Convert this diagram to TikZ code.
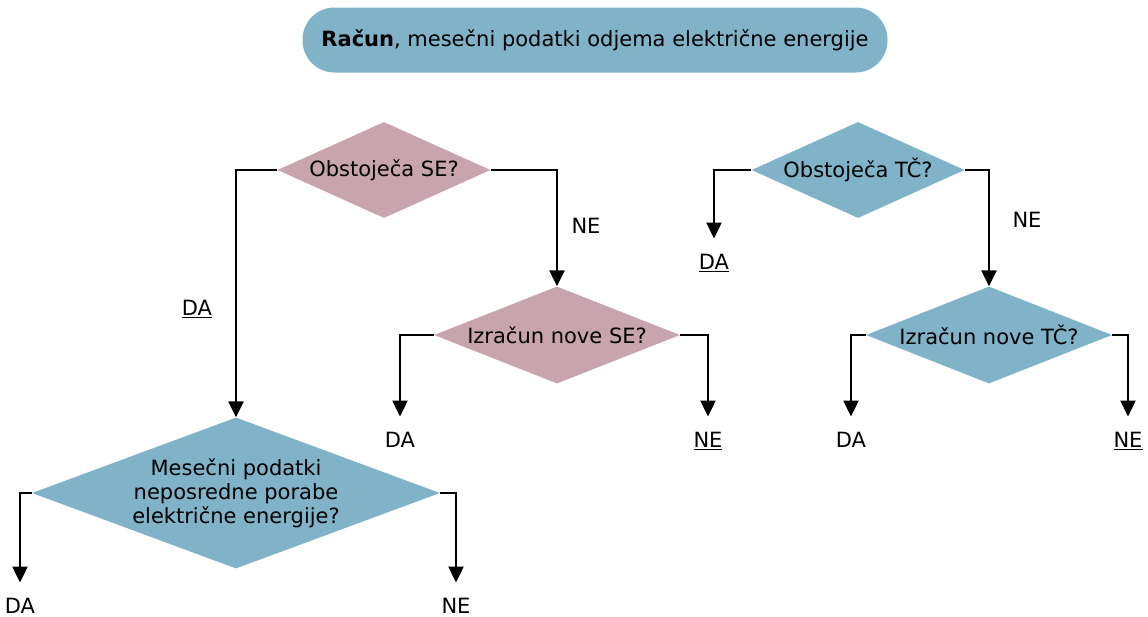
\documentclass[tikz,border=0pt]{standalone}
\usepackage{fontspec}
\setmainfont{DejaVu Sans}
\usepackage{xcolor}
\usepackage{tikz}
\usetikzlibrary{shapes.geometric, arrows.meta}
\definecolor{flowblue}{HTML}{80B3C7}
\definecolor{flowpink}{HTML}{C8A5AC}

\tikzset{
  decision/.style={diamond, draw=none, inner sep=0pt, align=center,
        font=\fontsize{21}{24}\selectfont},
  lbl/.style={inner sep=0pt, outer ysep=16pt, text height=15pt, text depth=0pt,
        font=\fontsize{21}{24}\selectfont},
  arr/.style={line width=2.4pt, -{Triangle[width=15pt, length=16pt]}}
}

\begin{document}
\begin{tikzpicture}[x=1pt, y=-1pt]
  \useasboundingbox (0,0) rectangle (1148,616);

  \node[fill=flowblue, rounded corners=32pt, minimum width=585pt,
        minimum height=65pt, font=\fontsize{21}{24}\selectfont] (racun) at (595,40)
        {\textbf{Račun}, mesečni podatki odjema električne energije};

  % soncna elektrarna
  \node[decision, fill=flowpink, minimum width=213pt, minimum height=96pt, aspect=2.2]
        (se) at (384,170) {Obstoječa SE?};
  \node[decision, fill=flowpink, minimum width=246pt, minimum height=97pt, aspect=2.5]
        (izse) at (557,335) {Izračun nove SE?};
  \node[decision, fill=flowblue, minimum width=408pt, minimum height=151pt, aspect=2.7]
        (mpe) at (236,493) {Mesečni podatki\\neposredne porabe\\električne energije?};

  % toplotna crpalka
  \node[decision, fill=flowblue, minimum width=213pt, minimum height=96pt, aspect=2.2]
        (tc) at (858,170) {Obstoječa TČ?};
  \node[decision, fill=flowblue, minimum width=246pt, minimum height=97pt, aspect=2.5]
        (iztc) at (989,335) {Izračun nove TČ?};

  % oznake
  \node[lbl] (seda) at (197,308) {\underline{DA}};
  \node[lbl] (sene) at (586,226) {NE};
  \node[lbl] (izseda) at (400,440) {DA};
  \node[lbl] (izsene) at (708,440) {\underline{NE}};
  \node[lbl] (mpeda) at (20,606) {DA};
  \node[lbl] (mpene) at (456,606) {NE};
  \node[lbl] (tcda) at (714,262) {\underline{DA}};
  \node[lbl] (tcne) at (1027,220) {NE};
  \node[lbl] (iztcda) at (851,440) {DA};
  \node[lbl] (iztcne) at (1128,440) {\underline{NE}};

  \draw[arr] (se.west) -| (mpe.north);
  \draw[arr] (se.east) -| (izse.north);
  \draw[arr] (izse.west) -| (izseda.north);
  \draw[arr] (izse.east) -| (izsene.north);
  \draw[arr] (mpe.west) -| (mpeda.north);
  \draw[arr] (mpe.east) -| (mpene.north);
  \draw[arr] (tc.west) -| (tcda.north);
  \draw[arr] (tc.east) -| (iztc.north);
  \draw[arr] (iztc.west) -| (iztcda.north);
  \draw[arr] (iztc.east) -| (iztcne.north);
\end{tikzpicture}
\end{document}
